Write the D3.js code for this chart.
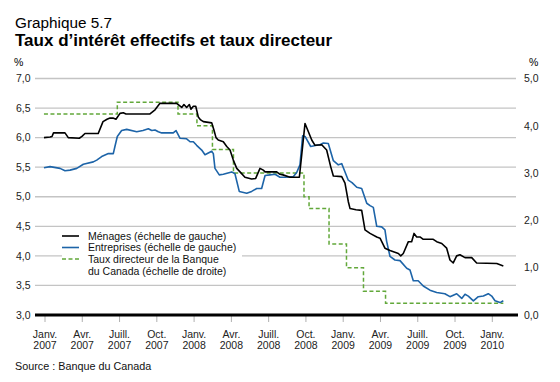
<!DOCTYPE html>
<html><head><meta charset="utf-8">
<script src="https://cdn.jsdelivr.net/npm/d3@7"></script>
<style>
body{margin:0;background:#fff;}
svg{display:block;font-family:"Liberation Sans",Arial,Helvetica,sans-serif;}
</style></head>
<body>
<svg id="c" width="560" height="382"></svg>
<script>
// Time is in decimal years
const menagesT = [2006.993,2007.034,2007.047,2007.057,2007.134,2007.156,2007.230,2007.248,2007.268,2007.357,2007.389,2007.416,2007.436,2007.456,2007.476,2007.503,2007.525,2007.543,2007.704,2007.738,2007.771,2007.883,2007.917,2007.932,2007.950,2007.968,2007.979,2007.995,2008.011,2008.028,2008.044,2008.062,2008.118,2008.133,2008.147,2008.162,2008.196,2008.219,2008.241,2008.263,2008.286,2008.308,2008.341,2008.386,2008.413,2008.442,2008.464,2008.476,2008.554,2008.576,2008.596,2008.643,2008.706,2008.744,2008.789,2008.811,2008.856,2008.889,2008.916,2008.934,2008.990,2009.012,2009.034,2009.046,2009.086,2009.124,2009.146,2009.180,2009.225,2009.247,2009.280,2009.314,2009.370,2009.386,2009.403,2009.437,2009.459,2009.475,2009.493,2009.515,2009.537,2009.604,2009.627,2009.661,2009.694,2009.716,2009.738,2009.761,2009.783,2009.817,2009.862,2009.895,2010.030,2010.074];
const menagesV = [6.00,6.01,6.02,6.08,6.08,6.00,5.99,6.02,6.07,6.07,6.27,6.31,6.33,6.33,6.31,6.41,6.42,6.40,6.40,6.47,6.58,6.58,6.51,6.56,6.51,6.56,6.48,6.53,6.53,6.35,6.30,6.27,6.25,6.13,6.00,5.96,5.93,5.85,5.79,5.62,5.48,5.42,5.33,5.30,5.31,5.48,5.45,5.42,5.42,5.38,5.37,5.33,5.33,6.24,5.96,5.87,5.88,5.79,5.51,5.35,5.34,5.23,4.92,4.80,4.78,4.77,4.44,4.38,4.32,4.30,4.13,4.09,4.04,4.00,4.04,4.24,4.24,4.38,4.32,4.32,4.28,4.28,4.24,4.21,4.13,3.93,3.88,4.00,4.02,3.97,3.97,3.88,3.87,3.83];

const entreprisesT = [2006.993,2007.034,2007.101,2007.134,2007.168,2007.213,2007.257,2007.324,2007.347,2007.380,2007.425,2007.458,2007.469,2007.485,2007.514,2007.548,2007.615,2007.657,2007.693,2007.716,2007.738,2007.760,2007.783,2007.860,2007.879,2007.905,2007.950,2007.973,2007.995,2008.017,2008.051,2008.073,2008.118,2008.129,2008.140,2008.169,2008.196,2008.252,2008.274,2008.303,2008.353,2008.386,2008.420,2008.453,2008.476,2008.509,2008.543,2008.576,2008.610,2008.665,2008.688,2008.710,2008.728,2008.744,2008.782,2008.822,2008.844,2008.867,2008.900,2008.934,2008.967,2008.990,2009.001,2009.034,2009.059,2009.091,2009.124,2009.158,2009.180,2009.202,2009.225,2009.258,2009.280,2009.291,2009.314,2009.347,2009.381,2009.426,2009.448,2009.470,2009.503,2009.537,2009.582,2009.627,2009.682,2009.716,2009.761,2009.795,2009.817,2009.839,2009.873,2009.906,2009.940,2009.973,2009.996,2010.018,2010.052,2010.074];
const entreprisesV = [5.49,5.51,5.48,5.44,5.45,5.48,5.55,5.59,5.62,5.68,5.73,5.73,5.85,6.02,6.12,6.14,6.10,6.12,6.15,6.12,6.13,6.10,6.08,6.08,6.12,5.99,5.98,5.93,5.93,5.87,5.79,5.71,5.77,5.73,5.48,5.37,5.38,5.42,5.39,5.09,5.06,5.09,5.14,5.14,5.36,5.37,5.38,5.33,5.33,5.34,5.41,5.54,6.03,6.02,5.85,5.87,5.88,5.91,5.90,5.61,5.54,5.56,5.49,5.28,5.24,5.16,5.14,4.89,4.85,4.82,4.50,4.49,4.44,4.25,3.99,3.93,3.92,3.79,3.76,3.58,3.58,3.49,3.42,3.38,3.36,3.31,3.36,3.28,3.35,3.32,3.24,3.31,3.32,3.36,3.32,3.24,3.21,3.24];

const tauxT = [2006.993,2007.485,2007.892,2008.019,2008.123,2008.264,2008.737,2008.771,2008.905,2009.022,2009.136,2009.284,2010.074];
const tauxV = [4.25,4.50,4.25,4.00,3.50,3.00,2.50,2.25,1.50,1.00,0.50,0.25,0.25];

const tickT = [2007,2007.25,2007.5,2007.75,2008,2008.25,2008.5,2008.75,2009,2009.25,2009.5,2009.75,2010];
const tickMonth = ["Janv.","Avr.","Juill.","Oct.","Janv.","Avr.","Juill.","Oct.","Janv.","Avr.","Juill.","Oct.","Janv."];
const tickYear = ["2007","2007","2007","2007","2008","2008","2008","2008","2009","2009","2009","2009","2010"];
const leftTicks = [3.0,3.5,4.0,4.5,5.0,5.5,6.0,6.5,7.0];
const rightTicks = [0,1,2,3,4,5];
const legendLabels = [["Ménages (échelle de gauche)"],["Entreprises (échelle de gauche)"],["Taux directeur de la Banque","du Canada (échelle de droite)"]];

const svg = d3.select("#c");
const x = d3.scaleLinear().domain([2007,2010]).range([45,492.3]);
const yL = d3.scaleLinear().domain([3,7]).range([315,78.5]);
const yR = d3.scaleLinear().domain([0,5]).range([315,78.5]);
const fmt = v => d3.format(".1f")(v).replace(".", ",");

// Titles
svg.append("text").attr("x",15).attr("y",27.5).attr("font-size",15.3).attr("fill","#000").text("Graphique 5.7");
svg.append("text").attr("x",15).attr("y",45.5).attr("font-size",17).attr("font-weight","bold").attr("fill","#000").text("Taux d’intérêt effectifs et taux directeur");

// % units
svg.append("text").attr("x",14).attr("y",66).attr("font-size",10.5).text("%");
svg.append("text").attr("x",529).attr("y",66).attr("font-size",10.5).text("%");

// gridlines
svg.append("g").selectAll("line").data(leftTicks.filter(d=>d>3)).join("line")
  .attr("x1",35).attr("x2",516).attr("y1",d=>yL(d)).attr("y2",d=>yL(d))
  .attr("stroke","#c4c4c4").attr("stroke-width",1.3);

// left axis labels
svg.append("g").selectAll("text").data(leftTicks).join("text")
  .attr("x",30.5).attr("y",d=>yL(d)+3.7).attr("text-anchor","end").attr("font-size",10.5).attr("fill","#222")
  .text(fmt);
// right axis labels
svg.append("g").selectAll("text").data(rightTicks).join("text")
  .attr("x",524).attr("y",d=>yR(d)+3.7).attr("text-anchor","start").attr("font-size",10.5).attr("fill","#222")
  .text(fmt);

// x ticks
svg.append("g").selectAll("line").data(tickT).join("line")
  .attr("x1",d=>x(d)).attr("x2",d=>x(d)).attr("y1",316).attr("y2",322)
  .attr("stroke","#b0b0b0").attr("stroke-width",1);
const xl = svg.append("g").selectAll("text").data(tickT).join("text")
  .attr("x",d=>x(d)).attr("text-anchor","middle").attr("font-size",10.5).attr("fill","#222");
xl.append("tspan").attr("x",d=>x(d)).attr("y",337.5).text((d,i)=>tickMonth[i]);
xl.append("tspan").attr("x",d=>x(d)).attr("y",348.5).text((d,i)=>tickYear[i]);

// legend background
svg.append("rect").attr("x",62).attr("y",229).attr("width",180).attr("height",47).attr("fill","#fff");

// series
const lineL = d3.line().x(d=>x(d[0])).y(d=>yL(d[1]));
const lineR = d3.line().x(d=>x(d[0])).y(d=>yR(d[1])).curve(d3.curveStepAfter);
svg.append("path").datum(d3.zip(tauxT,tauxV)).attr("d",lineR).attr("fill","none")
  .attr("stroke","#62a83a").attr("stroke-width",1.5).attr("stroke-dasharray","4,2.5");
svg.append("path").datum(d3.zip(entreprisesT,entreprisesV)).attr("d",lineL).attr("fill","none")
  .attr("stroke","#1d64a8").attr("stroke-width",1.6).attr("stroke-linejoin","round");
svg.append("path").datum(d3.zip(menagesT,menagesV)).attr("d",lineL).attr("fill","none")
  .attr("stroke","#000").attr("stroke-width",1.6).attr("stroke-linejoin","round");

// x axis baseline
svg.append("line").attr("x1",35).attr("x2",518).attr("y1",315).attr("y2",315).attr("stroke","#000").attr("stroke-width",3);

// legend
const lg = svg.append("g");
const sym = [{c:"#000",d:null},{c:"#1d64a8",d:null},{c:"#62a83a",d:"4,2.5"}];
const ly = [236,247.5,259];
sym.forEach((s,i)=>{
  lg.append("line").attr("x1",62).attr("x2",79).attr("y1",ly[i]).attr("y2",ly[i])
    .attr("stroke",s.c).attr("stroke-width",1.6).attr("stroke-dasharray",s.d);
  legendLabels[i].forEach((t,j)=>{
    lg.append("text").attr("x",88).attr("y",ly[i]+3.8+j*11.7).attr("font-size",10.5).attr("fill","#111").text(t);
  });
});

// source
svg.append("text").attr("x",15).attr("y",370).attr("font-size",10.8).attr("fill","#111").text("Source : Banque du Canada");
</script>
</body></html>
